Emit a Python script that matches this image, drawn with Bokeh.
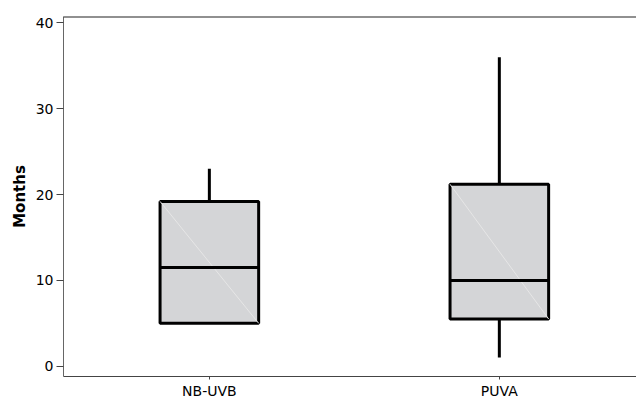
from bokeh.plotting import figure
from bokeh.models import Range1d, FixedTicker, Span, ColumnDataSource
from bokeh.embed import file_html
from bokeh.resources import INLINE

categories = ["NB-UVB", "PUVA"]
whisker_low = [5.0, 1.0]
q1 = [5.0, 5.5]
median = [11.5, 10.0]
q3 = [19.2, 21.2]
whisker_high = [23.0, 36.0]
y_ticks = [0, 10, 20, 30, 40]

xs = [i + 0.5 for i in range(len(categories))]
half = 0.17

src = ColumnDataSource(dict(
    x=xs, x0=[x - half for x in xs], x1=[x + half for x in xs],
    wl=whisker_low, q1=q1, med=median, q3=q3, wh=whisker_high,
))

p = figure(frame_width=573, frame_height=360, min_border_left=63, min_border_right=0,
           min_border_top=16, output_backend="svg", toolbar_location=None,
           x_range=Range1d(-0.003, 1.973), y_range=Range1d(-1.2, 40.75))
p.background_fill_color = "white"
p.border_fill_color = "white"
p.outline_line_color = None
p.xgrid.visible = False
p.ygrid.visible = False

# whiskers
p.segment(x0="x", y0="q3", x1="x", y1="wh", source=src, line_color="black", line_width=3)
p.segment(x0="x", y0="wl", x1="x", y1="q1", source=src, line_color="black", line_width=3)
# boxes
p.quad(left="x0", right="x1", bottom="q1", top="q3", source=src,
       fill_color="#d4d5d7", line_color="black", line_width=3)
# faint diagonal artifact
p.segment(x0="x0", y0="q3", x1="x1", y1="q1", source=src, line_color="#e6e6e6", line_width=1)
# medians
p.segment(x0="x0", y0="med", x1="x1", y1="med", source=src, line_color="black", line_width=3)

p.add_layout(Span(location=40.72, dimension="width", line_color="#222222", line_width=1.5))

p.xaxis.ticker = FixedTicker(ticks=xs)
p.xaxis.major_label_overrides = {x: c for x, c in zip(xs, categories)}
p.xaxis.minor_tick_line_color = None
p.xaxis.major_tick_out = 3
p.xaxis.major_tick_in = 0
p.xaxis.major_label_standoff = 3
p.xaxis.axis_line_color = "#444444"
p.xaxis.major_tick_line_color = "#444444"

p.yaxis.ticker = FixedTicker(ticks=y_ticks)
p.yaxis.minor_tick_line_color = None
p.yaxis.major_tick_out = 7
p.yaxis.major_tick_in = 0
p.yaxis.major_label_standoff = 3
p.yaxis.axis_line_color = "#666666"
p.yaxis.major_tick_line_color = "#444444"
p.yaxis.axis_label = "Months"
p.yaxis.axis_label_text_font = "DejaVu Sans"
p.yaxis.axis_label_text_font_style = "bold"
p.yaxis.axis_label_text_font_size = "15px"
p.yaxis.axis_label_text_color = "black"
p.yaxis.axis_label_standoff = 4

for ax in (p.xaxis, p.yaxis):
    ax.major_label_text_font = "DejaVu Sans"
    ax.major_label_text_font_size = "14px"
    ax.major_label_text_color = "black"

open("out.html", "w").write(file_html(p, INLINE))
